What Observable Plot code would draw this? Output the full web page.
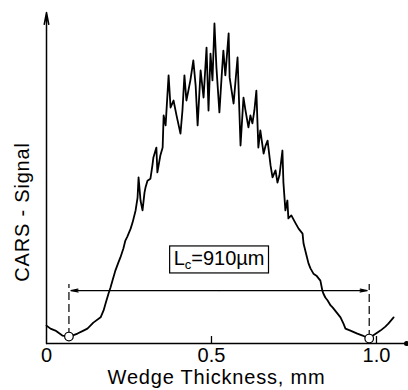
<!DOCTYPE html>
<html>
<head>
<meta charset="utf-8">
<script src="https://cdn.jsdelivr.net/npm/d3@7"></script>
<script src="https://cdn.jsdelivr.net/npm/@observablehq/plot@0.6"></script>
<style>
  html, body { margin: 0; padding: 0; background: white; }
</style>
</head>
<body>
<script>
// Wedge thickness (mm)
const wedge = [0.000,0.012,0.027,0.048,0.070,0.094,0.112,0.124,0.142,0.164,0.173,0.179,0.188,0.194,0.200,0.209,0.218,0.224,0.233,0.239,0.245,0.255,0.261,0.270,0.276,0.279,0.285,0.291,0.297,0.300,0.306,0.315,0.321,0.324,0.333,0.336,0.345,0.352,0.355,0.361,0.370,0.376,0.385,0.394,0.406,0.412,0.418,0.424,0.430,0.436,0.445,0.452,0.458,0.467,0.476,0.485,0.491,0.497,0.503,0.509,0.515,0.524,0.530,0.536,0.542,0.552,0.555,0.561,0.567,0.573,0.579,0.588,0.597,0.603,0.612,0.618,0.624,0.630,0.636,0.642,0.648,0.658,0.664,0.670,0.679,0.685,0.694,0.700,0.706,0.715,0.718,0.724,0.730,0.733,0.742,0.755,0.764,0.776,0.779,0.788,0.794,0.800,0.809,0.818,0.830,0.836,0.839,0.845,0.852,0.861,0.867,0.879,0.891,0.900,0.906,0.921,0.942,0.958,0.976,0.994,1.012,1.027,1.036,1.052];
// CARS signal (arbitrary units)
const signal = [5.4,4.5,3.9,2.4,2.1,3.0,3.9,4.5,6.3,7.9,10.0,12.1,15.1,16.9,19.0,22.1,24.5,26.0,28.7,31.1,32.3,34.7,36.6,40.2,44.1,50.2,43.2,40.2,45.6,47.1,49.2,49.8,53.8,56.2,59.2,51.7,56.8,59.2,68.9,65.9,81.0,71.3,73.4,68.9,63.4,70.4,81.0,73.4,76.4,79.5,85.5,77.9,65.9,82.5,74.3,89.4,70.4,87.6,79.5,96.7,83.4,69.8,79.5,88.5,81.0,93.7,80.4,76.4,72.5,79.5,86.4,59.8,74.3,70.4,65.3,68.9,66.5,70.4,76.4,59.2,64.4,57.4,59.8,61.3,53.8,50.2,52.3,48.6,50.8,58.3,48.6,40.2,43.2,37.8,38.7,36.3,34.7,33.2,30.2,26.6,24.2,22.7,21.1,20.5,19.0,16.0,15.1,13.9,13.0,11.5,10.9,9.4,7.9,6.0,4.5,3.9,3.0,2.4,1.5,2.7,3.9,5.1,6.0,7.9];
// Coherence-length markers
const markerX = [0.068, 0.978];
const markerY = [2.1, 1.5];
const markerTop = 17.8;
const arrowLevel = 16.0;
// Axis ticks
const tickValues = [0, 0.5, 1.0];
const tickLabels = ["0", "0.5", "1.0"];
const xMax = 1.091;
const yMax = 100;
const xTitle = "Wedge Thickness, mm";
const yTitle = "CARS - Signal";
const lcText = "Lc=910µm";

const data = wedge.map((x, i) => ({x, y: signal[i]}));
const markers = markerX.map((x, i) => ({x, y: markerY[i], top: markerTop}));
const mid = (markerX[0] + markerX[1]) / 2;
const arrows = markerX.map(x => ({x1: mid, x2: x, y: arrowLevel}));

const chart = Plot.plot({
  width: 408,
  height: 390,
  marginLeft: 46,
  marginRight: 2,
  marginTop: 12,
  marginBottom: 47,
  x: {domain: [0, xMax], axis: null},
  y: {domain: [0, yMax], axis: null},
  style: {fontFamily: "'Liberation Sans', Arial, sans-serif", fontSize: "20px", background: "white", color: "black"},
  marks: [
    Plot.ruleY([0], {stroke: "black", strokeWidth: 1.4}),
    Plot.dot([xMax], {x: d => d, y: () => 0, r: 2.5, fill: "black"}),
    Plot.arrow([{x: 0, y1: 0, y2: yMax}], {x1: "x", x2: "x", y1: "y1", y2: "y2", stroke: "black", strokeWidth: 1.5, headLength: 12, headAngle: 22}),
    Plot.ruleX(tickValues.slice(1), {y1: () => 0, y2: () => 2.1, stroke: "black", strokeWidth: 1.3}),
    Plot.text(tickValues, {x: d => d, y: () => 0, dy: 12, text: (d, i) => tickLabels[i], fontSize: 20}),
    Plot.line(data, {x: "x", y: "y", stroke: "black", strokeWidth: 1.8}),
    Plot.ruleX(markers, {x: "x", y1: "y", y2: "top", stroke: "black", strokeWidth: 1.2, strokeDasharray: "8,4"}),
    Plot.arrow(arrows, {x1: "x1", x2: "x2", y1: "y", y2: "y", stroke: "black", strokeWidth: 1.2, headLength: 9, headAngle: 24, insetEnd: 2}),
    Plot.dot(markers, {x: "x", y: "y", r: 4.3, fill: "white", stroke: "black", strokeWidth: 1.2}),
    Plot.text([lcText], {x: () => mid, y: () => arrowLevel, dy: -32, fontSize: 20}),
    Plot.text([xTitle], {frameAnchor: "bottom", lineAnchor: "middle", textAnchor: "middle", dx: -10, dy: 34, fontSize: 20}),
    Plot.text([yTitle], {frameAnchor: "left", lineAnchor: "middle", textAnchor: "middle", dx: -24, dy: 34, rotate: -90, fontSize: 20})
  ]
});
document.body.append(chart);

// letter spacing on axis titles, subscript c in L_c and frame box around the label
d3.select(chart).selectAll("text").each(function () {
  if (this.textContent === xTitle || this.textContent === yTitle) {
    this.setAttribute("letter-spacing", "0.8");
  }
  if (this.textContent === lcText) {
    const t = d3.select(this);
    t.text(null);
    t.append("tspan").text("L");
    t.append("tspan").attr("font-size", 13).attr("dy", 4).text("c");
    t.append("tspan").attr("dy", -4).text("=910µm");
    const b = this.getBBox();
    const g = this.parentNode;
    d3.select(g).insert("rect", "text")
      .attr("x", b.x - 4).attr("y", b.y - 1)
      .attr("width", b.width + 8).attr("height", b.height + 2)
      .attr("fill", "white").attr("stroke", "black").attr("stroke-width", 1.2)
      .attr("transform", this.getAttribute("transform"));
  }
});
</script>
</body>
</html>
